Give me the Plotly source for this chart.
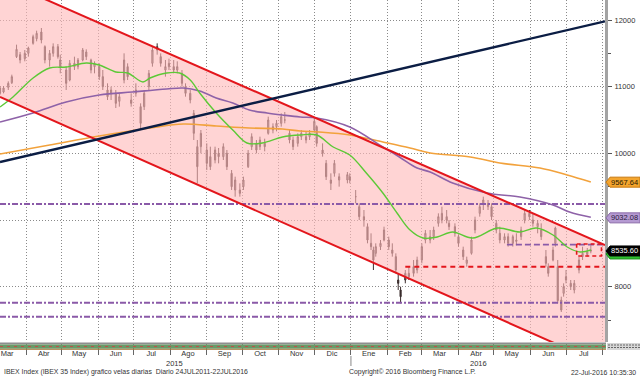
import plotly.graph_objects as go

# ---------------- data ----------------
dates = ["2015-03-10","2015-03-13","2015-03-17","2015-03-20","2015-03-24","2015-03-27","2015-03-31",
         "2015-04-03","2015-04-07","2015-04-10","2015-04-14","2015-04-17","2015-04-21","2015-04-24",
         "2015-04-28","2015-04-30","2015-05-05","2015-05-08","2015-05-12","2015-05-15","2015-05-19",
         "2015-05-22","2015-05-26","2015-05-29","2015-06-02","2015-06-05","2015-06-09","2015-06-12",
         "2015-06-16","2015-06-19","2015-06-23","2015-06-26","2015-06-29","2015-07-03","2015-07-07",
         "2015-07-10","2015-07-14","2015-07-17","2015-07-21","2015-07-24","2015-07-28","2015-07-31",
         "2015-08-04","2015-08-07","2015-08-11","2015-08-14","2015-08-18","2015-08-21","2015-08-24",
         "2015-08-27","2015-09-01","2015-09-04","2015-09-08","2015-09-11","2015-09-15","2015-09-18",
         "2015-09-22","2015-09-25","2015-09-29","2015-10-02","2015-10-06","2015-10-09","2015-10-13",
         "2015-10-16","2015-10-20","2015-10-23","2015-10-27","2015-10-30","2015-11-03","2015-11-06",
         "2015-11-10","2015-11-13","2015-11-17","2015-11-20","2015-11-24","2015-11-27","2015-12-01",
         "2015-12-03","2015-12-08","2015-12-11","2015-12-15","2015-12-18","2015-12-22","2015-12-29",
         "2015-12-31","2016-01-05","2016-01-08","2016-01-12","2016-01-15","2016-01-18","2016-01-20",
         "2016-01-22","2016-01-26","2016-01-29","2016-02-02","2016-02-05","2016-02-08","2016-02-10",
         "2016-02-12","2016-02-16","2016-02-19","2016-02-23","2016-02-26","2016-03-01","2016-03-04",
         "2016-03-08","2016-03-11","2016-03-15","2016-03-18","2016-03-22","2016-03-24","2016-03-29",
         "2016-04-01","2016-04-05","2016-04-08","2016-04-12","2016-04-15","2016-04-19","2016-04-22",
         "2016-04-26","2016-04-29","2016-05-03","2016-05-06","2016-05-10","2016-05-13","2016-05-17",
         "2016-05-20","2016-05-24","2016-05-27","2016-05-31","2016-06-03","2016-06-07","2016-06-10",
         "2016-06-14","2016-06-16","2016-06-20","2016-06-22","2016-06-24","2016-06-27","2016-06-29",
         "2016-07-01","2016-07-05","2016-07-08","2016-07-12","2016-07-15","2016-07-19","2016-07-22"]
opens = [10980,10920,10990,11060,11450,11480,11420,11500,11650,11720,11820,11600,11400,11500,
         11600,11400,11250,11100,11350,11300,11400,11520,11400,11300,11300,11150,10950,10900,
         10900,10780,11100,11300,10800,10900,10700,10700,11000,11350,11550,11450,11250,11300,
         11300,11250,11200,11000,10900,10600,10100,10100,10050,9950,9900,10000,9950,10000,
         9700,9450,9450,9500,9800,10100,10150,10100,10150,10300,10400,10400,10450,10500,
         10300,10200,10150,10250,10250,10250,10350,10400,10050,9850,9600,9700,9600,9600,
         9650,9350,9200,9000,8900,8650,8550,8500,8600,8700,8700,8550,8450,8100,
         7950,8100,8200,8300,8250,8400,8700,8750,8750,8950,9000,9050,8950,8900,
         8750,8550,8350,8500,8850,9100,9250,9200,9200,8950,8800,8700,8750,8650,
         8700,8750,9000,9100,9000,8900,8850,8450,8300,8400,8650,8300,7800,7900,
         8100,8050,7950,8250,8450,8480,8550]
highs = [11010,11010,11080,11180,11630,11520,11550,11600,11780,11840,11880,11620,11550,11650,
         11640,11480,11300,11400,11450,11430,11580,11560,11420,11380,11350,11250,11050,11000,
         10950,10900,11500,11350,10900,11050,10750,10950,11250,11600,11650,11500,11400,11420,
         11400,11380,11250,11050,10950,10650,10200,10350,10150,10100,10100,10080,10150,10050,
         9750,9650,9550,9650,10050,10300,10200,10250,10220,10550,10450,10500,10600,10620,
         10350,10250,10300,10350,10320,10350,10530,10420,10150,9900,9700,9900,9700,9720,
         9700,9450,9250,9150,8950,8800,8600,8650,8700,8900,8750,8650,8500,8200,
         8000,8250,8300,8400,8450,8650,8850,8850,8900,9100,9200,9150,9000,8950,
         8780,8600,8450,8750,9050,9250,9350,9300,9250,9000,8900,8800,8800,8780,
         8800,8900,9150,9150,9100,9000,8950,8550,8350,8600,8900,8400,7850,8050,
         8250,8100,8100,8450,8600,8580,8620]
lows = [10880,10900,10950,11040,11430,11350,11380,11450,11630,11680,11650,11350,11300,11450,
        11420,11200,10950,11080,11250,11260,11380,11400,11200,11200,11100,10950,10800,10800,
        10680,10700,11050,11100,10700,10850,10350,10650,10950,11300,11480,11300,11150,11250,
        11200,11200,11000,10850,10750,10200,9550,10000,9750,9750,9850,9850,9900,9750,
        9450,9350,9350,9450,9780,10050,10000,10050,10030,10280,10300,10330,10400,10450,
        10150,10050,10100,10200,10150,10200,10330,10100,9950,9600,9450,9650,9500,9550,
        9550,9250,9000,8900,8650,8550,8250,8450,8550,8680,8550,8450,8200,7950,
        7750,8050,8100,8150,8200,8350,8650,8650,8700,8900,8950,8950,8850,8750,
        8600,8400,8300,8480,8800,9050,9150,9150,9000,8800,8650,8650,8600,8600,
        8620,8700,8950,9000,8900,8800,8700,8300,8150,8380,8600,7750,7620,7850,
        8050,7950,7900,8200,8400,8450,8500]
closes = [10900,10980,11050,11150,11560,11400,11500,11580,11750,11800,11700,11400,11500,11600,
          11450,11300,11050,11350,11300,11400,11550,11450,11250,11350,11150,11000,10850,10950,
          10750,10850,11400,11150,10750,10950,10450,10900,11200,11550,11600,11350,11300,11350,
          11250,11300,11050,10900,10800,10300,9800,10300,9850,9800,10050,9950,10100,9800,
          9500,9600,9400,9600,10000,10250,10050,10200,10100,10500,10350,10450,10550,10500,
          10200,10100,10250,10300,10200,10300,10480,10150,10000,9650,9550,9850,9650,9680,
          9600,9350,9050,9050,8700,8600,8400,8600,8650,8850,8600,8500,8250,8050,
          7850,8200,8150,8200,8400,8600,8800,8700,8850,9050,9100,9000,8900,8800,
          8650,8450,8400,8700,9000,9200,9300,9250,9050,8850,8700,8750,8650,8750,
          8680,8850,9100,9050,8950,8950,8750,8350,8200,8550,8880,7790,7650,8000,
          8150,8000,8050,8400,8500,8520,8535.6]

ma50_dates = ["2015-03-10","2015-03-21","2015-04-07","2015-04-21","2015-05-05","2015-05-22","2015-06-02",
              "2015-06-16","2015-06-26","2015-07-09","2015-07-15","2015-07-29","2015-08-09","2015-08-18",
              "2015-08-26","2015-09-09","2015-09-23","2015-10-05","2015-10-18","2015-11-04","2015-11-19",
              "2015-12-03","2015-12-17","2015-12-31","2016-01-14","2016-01-28","2016-02-09","2016-02-20",
              "2016-03-02","2016-03-14","2016-03-27","2016-04-13","2016-05-04","2016-05-23","2016-06-06",
              "2016-06-20","2016-07-02","2016-07-13","2016-07-22"]
ma50 = [10695,10845,11130,11280,11295,11355,11325,11220,11205,11070,11130,11205,11205,11100,
        10905,10605,10350,10155,10155,10245,10275,10275,10095,9975,9705,9405,9105,8850,
        8730,8745,8820,8730,8880,8820,8880,8775,8595,8520,8550]

ma100_dates = ["2015-03-10","2015-04-07","2015-05-05","2015-06-02","2015-06-30","2015-07-29","2015-08-12",
               "2015-08-26","2015-09-09","2015-09-23","2015-10-07","2015-10-22","2015-11-04","2015-11-19",
               "2015-12-03","2015-12-31","2016-01-28","2016-02-11","2016-02-26","2016-03-08","2016-03-27",
               "2016-04-25","2016-05-23","2016-06-20","2016-07-04","2016-07-22"]
ma100 = [10470,10605,10770,10875,10920,10965,10980,10935,10830,10755,10650,10605,10575,10545,
         10530,10395,10095,9945,9780,9720,9555,9405,9345,9225,9120,9040]

ma200_dates = ["2015-03-10","2015-04-21","2015-06-02","2015-07-15","2015-08-12","2015-09-09","2015-10-07",
               "2015-11-04","2015-11-19","2015-12-05","2015-12-31","2016-01-28","2016-02-20","2016-03-08",
               "2016-04-11","2016-05-06","2016-06-09","2016-07-02","2016-07-22"]
ma200 = [9990,10125,10260,10380,10440,10410,10380,10365,10335,10320,10275,10170,10080,10005,
         9945,9855,9780,9675,9570]

x_range = ["2015-03-10", "2016-08-03"]
y_range = [7170, 12300]
channel_upper = [12609, 8625]
channel_lower = [10845, 6816]
trend_line = [9870, 11980]

dashdot_levels = [9240, 7760, 7550]
red_level = 8300
red_level_start = "2016-02-16"
purple_level = 8630
purple_level_start = "2016-05-12"
box_dates = ["2016-07-10", "2016-07-31"]
box_values = [8460, 8640]

month_ticks = ["2015-03-16","2015-04-16","2015-05-16","2015-06-16","2015-07-16","2015-08-16",
               "2015-09-16","2015-10-16","2015-11-16","2015-12-16","2016-01-16","2016-02-16",
               "2016-03-16","2016-04-16","2016-05-16","2016-06-16","2016-07-16"]
month_labels = ["Mar","Abr","May","Jun","Jul","Ago","Sep","Oct","Nov","Dic","Ene","Feb",
                "Mar","Abr","May","Jun","Jul"]
year_labels = ["2015", "2016"]
year_positions = ["2015-08-05", "2016-04-18"]
y_ticks = [8000, 9000, 10000, 11000, 12000]
y_tick_text = ["8000", "", "10000", "11000", "12000"]   # 9000 is hidden behind the 9032.08 tag

last_ma200 = 9567.64
last_ma100 = 9032.08
last_close = 8535.60

# ---------------- figure ----------------
W, H = 640, 376
PL, PR, PT, PB = 0, 605, 0, 342   # plot area in pixels

def px(xp):
    return (xp - PL) / (PR - PL)

def py(yp):
    return (PB - yp) / (PB - PT)

FONT = "Liberation Sans, Arial, sans-serif"
RED = "#e3161c"
PURPLE = "#8a5aa8"

fig = go.Figure()

# channel fill
fig.add_trace(go.Scatter(x=x_range, y=channel_upper, mode="lines", line=dict(width=0),
                         hoverinfo="skip"))
fig.add_trace(go.Scatter(x=x_range, y=channel_lower, mode="lines", line=dict(width=0),
                         fill="tonexty", fillcolor="rgba(255,185,185,0.62)", hoverinfo="skip"))

# horizontal levels
for lv in dashdot_levels:
    fig.add_trace(go.Scatter(x=x_range, y=[lv, lv], mode="lines",
                             line=dict(color=PURPLE, width=2, dash="6px,2px,2px,2px"),
                             hoverinfo="skip"))
fig.add_trace(go.Scatter(x=[red_level_start, x_range[1]], y=[red_level, red_level], mode="lines",
                         line=dict(color=RED, width=2, dash="5px,4px"), hoverinfo="skip"))
fig.add_trace(go.Scatter(x=[purple_level_start, x_range[1]], y=[purple_level, purple_level],
                         mode="lines", line=dict(color=PURPLE, width=1.6, dash="6px,3px"),
                         hoverinfo="skip"))

# moving averages
fig.add_trace(go.Scatter(x=ma200_dates, y=ma200, mode="lines", line=dict(color="#f2a23c", width=1.6,
                         shape="spline"), hoverinfo="skip"))
fig.add_trace(go.Scatter(x=ma100_dates, y=ma100, mode="lines", line=dict(color="#8e62a8", width=1.6,
                         shape="spline"), hoverinfo="skip"))
fig.add_trace(go.Scatter(x=ma50_dates, y=ma50, mode="lines", line=dict(color="#5cc936", width=1.4,
                         shape="spline"), hoverinfo="skip"))

# candles
fig.add_trace(go.Candlestick(x=dates, open=opens, high=highs, low=lows, close=closes,
                             increasing=dict(line=dict(color="#3a2c2c", width=1), fillcolor="#a8979a"),
                             decreasing=dict(line=dict(color="#3a2c2c", width=1), fillcolor="#3a2c2c"),
                             whiskerwidth=0, hoverinfo="skip"))

# channel lines and trend line
fig.add_trace(go.Scatter(x=x_range, y=channel_upper, mode="lines", line=dict(color=RED, width=2),
                         hoverinfo="skip"))
fig.add_trace(go.Scatter(x=x_range, y=channel_lower, mode="lines", line=dict(color=RED, width=2),
                         hoverinfo="skip"))
fig.add_trace(go.Scatter(x=x_range, y=trend_line, mode="lines", line=dict(color="#0b1d44", width=2.4),
                         hoverinfo="skip"))

# red dashed box
fig.add_trace(go.Scatter(x=[box_dates[0], box_dates[1], box_dates[1], box_dates[0], box_dates[0]],
                         y=[box_values[1], box_values[1], box_values[0], box_values[0], box_values[1]],
                         mode="lines", line=dict(color=RED, width=1.6, dash="4px,3px"),
                         hoverinfo="skip"))

shapes = []
# lower squashed pane band
shapes.append(dict(type="rect", xref="paper", yref="paper", x0=px(0), x1=px(606),
                   y0=py(344.5), y1=py(342.5), fillcolor="#8e8e8e", line=dict(width=0), layer="above"))
shapes.append(dict(type="rect", xref="paper", yref="paper", x0=px(0), x1=px(606),
                   y0=py(348.8), y1=py(344.5), fillcolor="#6a9a68", line=dict(width=0), layer="above"))
shapes.append(dict(type="line", xref="paper", yref="paper", x0=px(0), x1=px(606),
                   y0=py(346.5), y1=py(346.5), line=dict(color="#c0504a", width=1, dash="3px,4px"),
                   layer="above"))
shapes.append(dict(type="line", xref="paper", yref="paper", x0=px(0), x1=px(606),
                   y0=py(349.3), y1=py(349.3), line=dict(color="#a8783c", width=1), layer="above"))
shapes.append(dict(type="rect", xref="paper", yref="paper", x0=px(607), x1=px(640),
                   y0=py(350), y1=py(343), fillcolor="#d6d6d6", line=dict(width=0), layer="above"))
for yy in (345, 347.5):
    shapes.append(dict(type="line", xref="paper", yref="paper", x0=px(608), x1=px(640),
                       y0=py(yy), y1=py(yy), line=dict(color="#666", width=1, dash="2px,1px"),
                       layer="above"))
# year separator
shapes.append(dict(type="line", xref="x", yref="paper", x0="2016-01-01", x1="2016-01-01",
                   y0=py(356), y1=py(366), line=dict(color="#888", width=1)))

# value tags on the right
def tag(value, fill, border, dy=0):
    h = 5 * (y_range[1] - y_range[0]) / (PB - PT)
    v = value - dy * (y_range[1] - y_range[0]) / (PB - PT)
    x0, x1, x2 = px(606), px(610), px(640)
    path = f"M {x0},{v} L {x1},{v + h} L {x2},{v + h} L {x2},{v - h} L {x1},{v - h} Z"
    return dict(type="path", xref="paper", yref="y", path=path, fillcolor=fill,
                line=dict(color=border, width=1), layer="above")

shapes.append(tag(last_ma200, "#f4a52e", "#c87a10"))
shapes.append(tag(last_ma100, "#b59ad2", "#8a6aa8"))
shapes.append(tag(last_close, "#2fbf2f", "#1c8f1c", dy=3))
shapes.append(tag(last_close, "#000000", "#000000"))

annotations = []
tag_font = dict(family=FONT, size=7.5)
for val, col in ((last_ma200, "#2a1a00"), (last_ma100, "#2a1a3a"), (last_close, "#ffffff")):
    annotations.append(dict(xref="paper", yref="y", x=px(625), y=val, text=f"{val:.2f}",
                            xanchor="center", yanchor="middle", showarrow=False,
                            font=dict(color=col, **tag_font)))
for lab, pos in zip(year_labels, year_positions):
    annotations.append(dict(xref="x", yref="paper", x=pos, y=py(363), text=lab, showarrow=False,
                            xanchor="center", yanchor="middle",
                            font=dict(family=FONT, size=7.5, color="#333")))
foot = dict(family=FONT, size=6.9, color="#333")
annotations.append(dict(xref="paper", yref="paper", x=px(2), y=py(372), xanchor="left", yanchor="middle",
                        text="IBEX Index (IBEX 35 Index) grafico velas diarias  Diario 24JUL2011-22JUL2016",
                        showarrow=False, font=foot))
annotations.append(dict(xref="paper", yref="paper", x=px(347), y=py(372), xanchor="left", yanchor="middle",
                        text="Copyright\u00a9 2016 Bloomberg Finance L.P.", showarrow=False, font=foot))
annotations.append(dict(xref="paper", yref="paper", x=px(638), y=py(372), xanchor="right", yanchor="middle",
                        text="22-Jul-2016 10:35:30", showarrow=False, font=foot))

fig.update_layout(
    width=W, height=H,
    margin=dict(l=PL, r=W - PR, t=PT, b=H - PB),
    paper_bgcolor="white", plot_bgcolor="white",
    showlegend=False,
    shapes=shapes, annotations=annotations,
    xaxis=dict(type="date", range=x_range, tickmode="array", tickvals=month_ticks, ticktext=month_labels,
               ticks="", showgrid=False, zeroline=False, rangeslider=dict(visible=False),
               automargin=False,
               tickfont=dict(family=FONT, size=7.5, color="#333"), ticklabelstandoff=5,
               minor=dict(tickmode="linear", tick0="2015-03-01", dtick="M1", showgrid=True,
                          gridcolor="#8a8a8a", griddash="1px,2px", gridwidth=1,
                          ticks="outside", ticklen=12, tickcolor="#666")),
    yaxis=dict(range=y_range, side="right", tickmode="array", tickvals=y_ticks,
               ticktext=y_tick_text, ticks="outside", ticklen=4, tickcolor="#555",
               showgrid=True, gridcolor="#8a8a8a", griddash="1px,2px", gridwidth=1,
               showline=True, linecolor="#a4a4a4", linewidth=3, zeroline=False,
               automargin=False,
               tickfont=dict(family=FONT, size=7.5, color="#333"), ticklabelstandoff=1,
               minor=dict(tickmode="linear", tick0=7500, dtick=500, ticks="outside", ticklen=3,
                          tickcolor="#555", showgrid=False)),
)

fig.write_html("out.html", config={"displayModeBar": False},
               post_script="document.body.style.margin='0';document.body.style.overflow='hidden';")
